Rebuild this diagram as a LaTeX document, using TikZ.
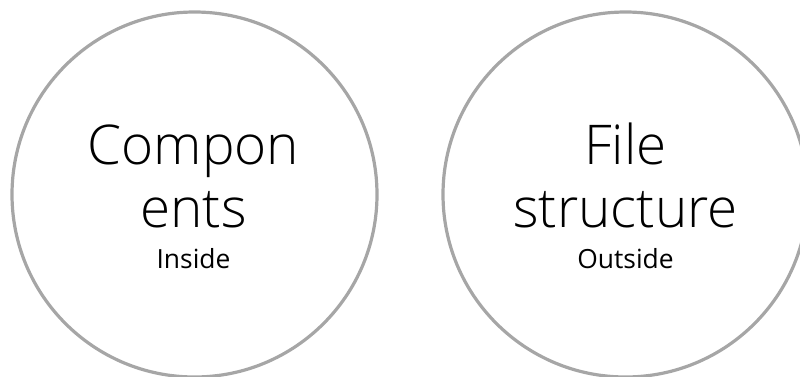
\documentclass[tikz,border=0pt]{standalone}
\usepackage{fontspec}
\setmainfont{Open Sans}[UprightFont={* Light}]
\newfontfamily\subfont{Open Sans}
\definecolor{ringgray}{HTML}{A6A6A6}
\begin{document}
\begin{tikzpicture}[x=1bp,y=-1bp,
  ring/.style={circle, draw=ringgray, line width=3.2bp, minimum size=365bp, inner sep=0pt},
  big/.style={anchor=base, inner sep=0pt, font=\fontsize{55}{60}\selectfont},
  small/.style={anchor=base, inner sep=0pt, font=\subfont\fontsize{26.5}{30}\selectfont}]
\useasboundingbox (0,0) rectangle (800,376);
\clip (0,0) rectangle (800,376);
\node[ring] (c1) at (194.5,194.5) {};
\node[ring] (c2) at (625.5,194.5) {};
\node[big] (t1a) at (193.5,164) {Compon};
\node[big] (t1b) at (193.5,227) {ents};
\node[small] (t1c) at (193.5,268) {Inside};
\node[big] (t2a) at (625.5,164) {File};
\node[big] (t2b) at (625.5,227) {structure};
\node[small] (t2c) at (625.5,268) {Outside};
\end{tikzpicture}
\end{document}
